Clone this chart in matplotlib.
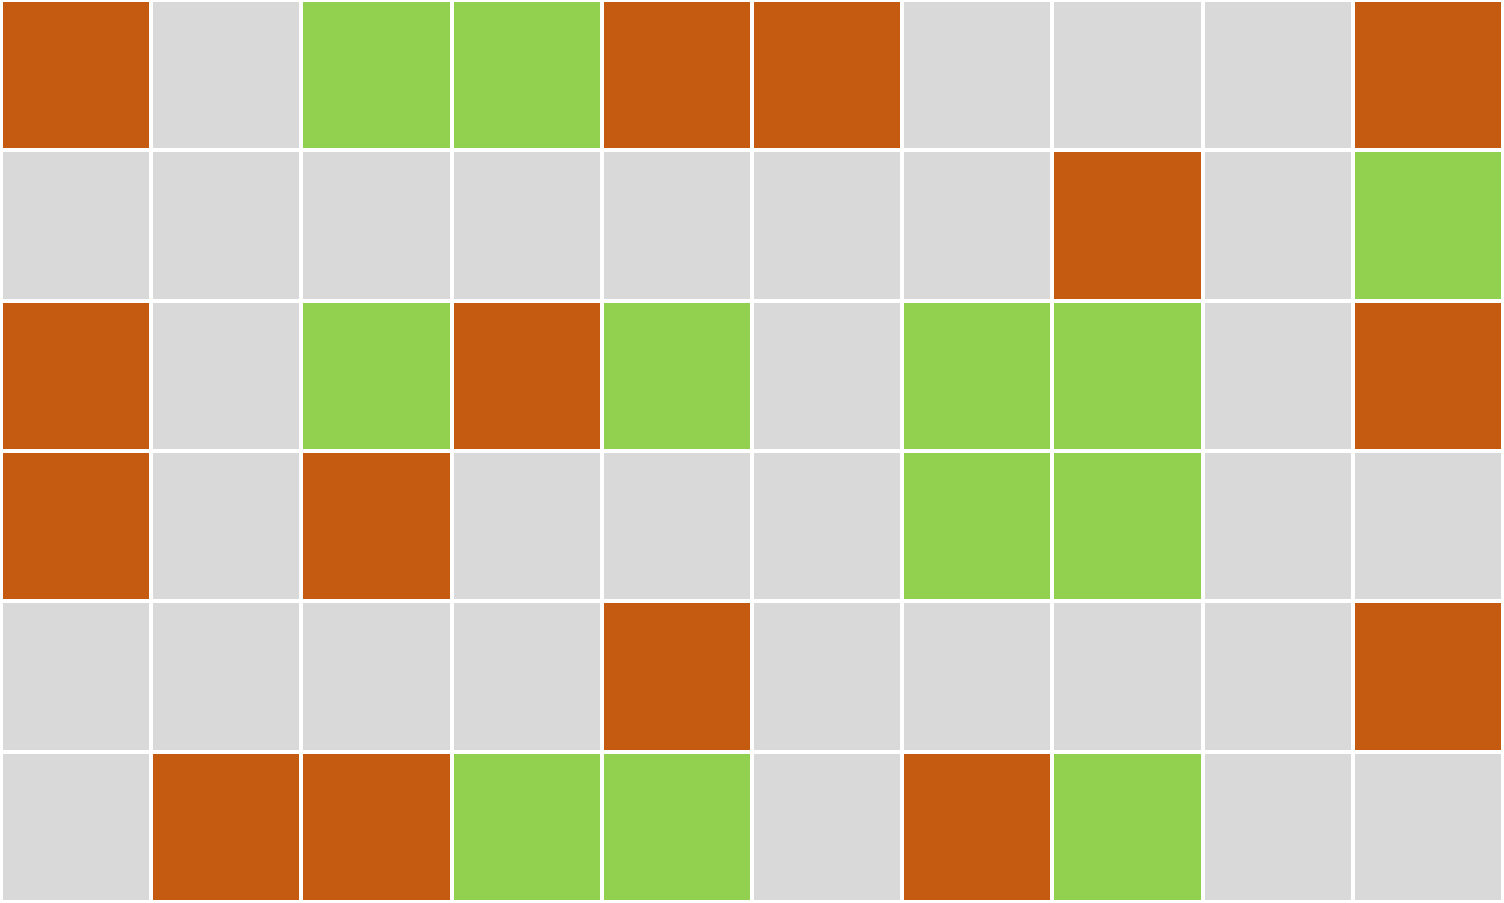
import matplotlib
matplotlib.use("Agg")
import matplotlib.pyplot as plt
from matplotlib.colors import ListedColormap, BoundaryNorm
import numpy as np

# 0 = neutral (gray), 1 = orange, 2 = green ; rows listed top to bottom
row_0 = [1, 0, 2, 2, 1, 1, 0, 0, 0, 1]
row_1 = [0, 0, 0, 0, 0, 0, 0, 1, 0, 2]
row_2 = [1, 0, 2, 1, 2, 0, 2, 2, 0, 1]
row_3 = [1, 0, 1, 0, 0, 0, 2, 2, 0, 0]
row_4 = [0, 0, 0, 0, 1, 0, 0, 0, 0, 1]
row_5 = [0, 1, 1, 2, 2, 0, 1, 2, 0, 0]

grid = np.array([row_0, row_1, row_2, row_3, row_4, row_5])

cmap = ListedColormap(["#D9D9D9", "#C55A11", "#92D050"])
norm = BoundaryNorm([-0.5, 0.5, 1.5, 2.5], cmap.N)

fig = plt.figure(figsize=(15.04, 9.04), dpi=100)
ax = fig.add_axes([1 / 1504, 1 / 904, 1502 / 1504, 902 / 904])
ax.pcolormesh(grid, cmap=cmap, norm=norm, edgecolors="white", linewidth=1.5)
ax.set_xlim(0, grid.shape[1])
ax.set_ylim(grid.shape[0], 0)
ax.axis("off")
fig.savefig("out.png", dpi=100, facecolor="white")
